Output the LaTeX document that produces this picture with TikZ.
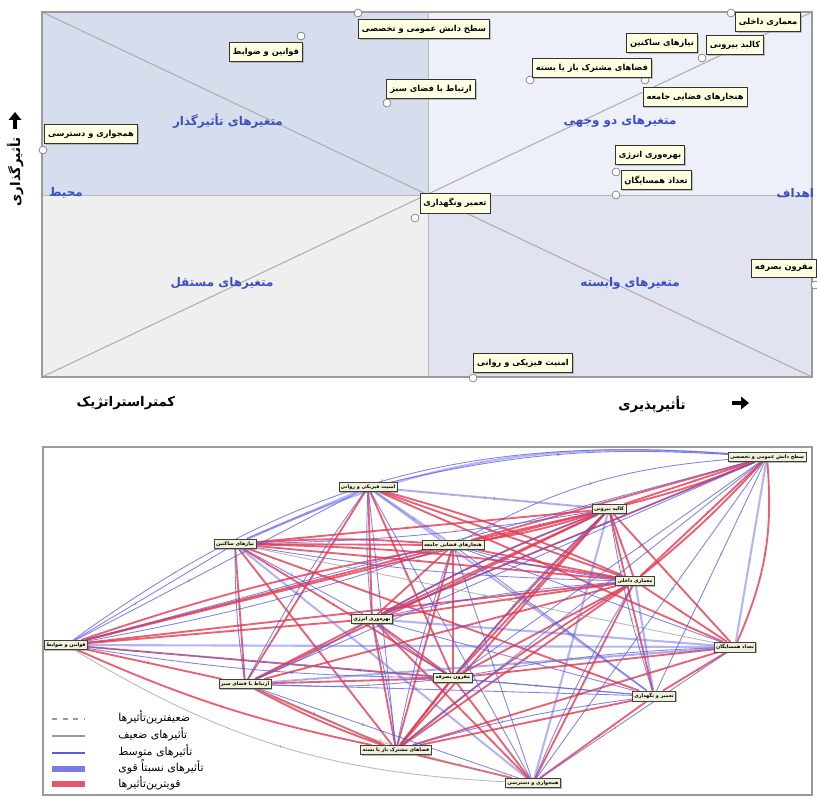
\documentclass[tikz,border=0pt]{standalone}
\usepackage{fontspec}
\usetikzlibrary{arrows.meta,shadows,backgrounds}
\newfontfamily\farsi[Script=Arabic]{DejaVu Sans}
\TeXXeTstate=1
\newcommand{\fatx}[1]{{\farsi\beginR #1\endR}}
\definecolor{qtl}{HTML}{D6DDEC}
\definecolor{qtr}{HTML}{EDF0F8}
\definecolor{qbl}{HTML}{EFEFF0}
\definecolor{qbr}{HTML}{E1E3F0}
\definecolor{ctitle}{HTML}{3B4FC4}
\definecolor{cbox}{HTML}{FFFFE1}
\definecolor{cgbox}{HTML}{F1F0D8}
\definecolor{cred}{HTML}{E2384E}
\definecolor{cblue}{HTML}{5A5AE0}
\definecolor{cline}{HTML}{9A9A9A}
\tikzset{
  frame/.style ={draw=cline,line width=0.8pt},
  grid/.style  ={draw=cline!70,line width=0.5pt},
  diag/.style  ={draw=cline!80,line width=0.6pt},
  qtitle/.style={text=ctitle,font=\bfseries\fontsize{6.8}{7}\selectfont,inner sep=1pt},
  axis/.style  ={font=\bfseries\fontsize{7.6}{8}\selectfont,inner sep=1pt},
  lbl/.style   ={draw=black!80,fill=cbox,line width=0.4pt,inner xsep=2pt,inner ysep=3pt,
                 font=\bfseries\fontsize{4.7}{5}\selectfont,
                 drop shadow={shadow xshift=0.8pt,shadow yshift=-0.8pt,fill=black!45}},
  pt/.style    ={circle,draw=black!55,fill=white,line width=0.35pt,inner sep=0pt,minimum size=4.5pt},
  gnode/.style ={draw=black!75,fill=cgbox,line width=0.35pt,inner xsep=1.1pt,inner ysep=1.3pt,
                 font=\bfseries\fontsize{2.8}{3}\selectfont,
                 drop shadow={shadow xshift=0.6pt,shadow yshift=-0.6pt,fill=black!55}},
  strong/.style={draw=cred,line width=1.05pt,opacity=0.8},
  semi/.style  ={draw=cblue,line width=1.2pt,opacity=0.45},
  mid/.style   ={draw=cblue,line width=0.5pt,opacity=0.75},
  weak/.style  ={draw=cline,line width=0.5pt,opacity=0.7},
  faint/.style ={draw=cline,line width=0.4pt,dashed,opacity=0.7},
  num/.style   ={font=\fontsize{2.8}{3}\selectfont,text=black!60,inner sep=0.3pt},
  leg/.style   ={font=\fontsize{6.2}{7}\selectfont,anchor=west,inner sep=0pt},
}
\begin{document}
\begin{tikzpicture}[x=0.02cm,y=-0.02cm]
\useasboundingbox (0,0) rectangle (817,798);
% upper chart
\fill[qtl] (42,12) rectangle (428,195);
\fill[qtr] (428,12) rectangle (812,195);
\fill[qbl] (42,195) rectangle (428,377);
\fill[qbr] (428,195) rectangle (812,377);
\draw[grid] (42,195) -- (812,195) (428,12) -- (428,377);
\draw[diag] (42,12) -- (812,377) (42,377) -- (812,12);
\draw[frame] (42,12) rectangle (812,377);
\node[qtitle] (q1) at (228,121) {\fatx{متغیرهای تأثیرگذار}};
\node[qtitle] (q2) at (620,121) {\fatx{متغیرهای دو وجهی}};
\node[qtitle] (q3) at (222,283) {\fatx{متغیرهای مستقل}};
\node[qtitle] (q4) at (630,283) {\fatx{متغیرهای وابسته}};
\node[qtitle] (env) at (66,193) {\fatx{محیط}};
\node[qtitle,anchor=east] (goal) at (816,193) {\fatx{اهداف}};
\foreach \n/\x/\y in {sd/358/13,qz/301/36,fs/387/103,hd/43/150,md/731/13,kb/702/58,
                      fm/530/80,hj/645/80,be/616/172,th/616/195,tn/415/218,mb/815/285,am/473/378}
  \node[pt] (p\n) at (\x,\y) {};
\foreach \n/\x/\y/\t in {sd/424/29/{سطح دانش عمومی و تخصصی},qz/266/52/{قوانین و ضوابط},
    fs/431/89/{ارتباط با فضای سبز},hd/91/134/{همجواری و دسترسی},md/768/22/{معماری داخلی},
    kb/735/45/{کالبد بیرونی},ns/662/43/{نیازهای ساکنین},fm/592/68/{فضاهای مشترک باز یا بسته},
    hj/695/97/{هنجارهای فضایی جامعه},be/650/155/{بهره‌وری انرژی},th/656/180/{تعداد همسایگان},
    tn/455/203/{تعمیر ونگهداری},mb/784/268/{مقرون بصرفه},am/523/363/{امنیت فیزیکی و روانی}}
  \node[lbl] (t\n) at (\x,\y) {\fatx{\t}};
\node[axis] (xlo) at (126,403) {\fatx{کمتراستراتژیک}};
\node[axis] (xhi) at (652,404) {\fatx{تأثیرپذیری}};
\node[axis,rotate=90] (yhi) at (15,172) {\fatx{تأثیرگذاری}};
\coordinate (xa) at (732,403); \coordinate (xb) at (749,403);
\coordinate (ya) at (15,129); \coordinate (yb) at (15,112);
\draw[line width=2.6pt,-{Triangle[length=4.5pt,width=7pt]}] (xa) -- (xb);
\draw[line width=2.6pt,-{Triangle[length=4.5pt,width=7pt]}] (ya) -- (yb);
% lower graph
\draw[frame] (43,447) rectangle (812,795);
\foreach \n/\x/\y/\t in {sd/767/457/{سطح دانش عمومی و تخصصی},am/368/487/{امنیت فیزیکی و روانی},
    kb/609/509/{کالبد بیرونی},ns/235/544/{نیازهای ساکنین},hj/453/545/{هنجارهای فضایی جامعه},
    md/635/581/{معماری داخلی},be/372/619/{بهره‌وری انرژی},qz/66/645/{قوانین و ضوابط},
    th/735/647/{تعداد همسایگان},fs/245/684/{ارتباط با فضای سبز},mb/453/678/{مقرون بصرفه},
    tn/654/696/{تعمیر و نگهداری},fm/396/750/{فضاهای مشترک باز یا بسته},hd/533/783/{همجواری و دسترسی}}
  \node[gnode] (\n) at (\x,\y) {\fatx{\t}};
\begin{scope}[on background layer]
 \foreach \a/\b in {ns/hj,ns/md,ns/kb,ns/fs,ns/fm,ns/mb,ns/tn,am/fs,am/md,am/mb,am/th,am/be,
     kb/hj,kb/qz,kb/fs,kb/be,kb/md,kb/th,kb/mb,kb/tn,kb/fm,sd/kb,sd/md,sd/be,sd/hj,
     hj/md,hj/be,hj/fm,hj/mb,hj/qz,md/qz,md/be,md/fs,md/mb,md/fm,md/th,md/hd,
     be/qz,be/fs,be/mb,be/fm,be/hd,qz/fs,qz/mb,th/mb,th/fm,th/tn,fs/fm,fs/mb,
     mb/fm,mb/hd,tn/hd,tn/fm,fm/hd}
   \draw[strong] (\a) -- node[num,pos=0.45]{3} (\b);
 \foreach \a/\b in {ns/hj,ns/md,kb/hj,fm/fs,fm/md,sd/kb,qz/hj,am/md,fm/kb,be/kb,sd/md}
   \draw[strong] (\a) to[bend left=4] (\b);
 \foreach \a/\b in {ns/am,am/hj,qz/th,fs/th,am/tn,hd/ns,hd/kb,be/th,md/tn,kb/am,sd/th}
   \draw[semi] (\a) -- node[num,pos=0.55]{2} (\b);
 \foreach \a/\b in {sd/fs,sd/tn,sd/mb,sd/fm,sd/hd,qz/ns,qz/am,hj/th,hj/tn,hj/hd,be/tn,
     mb/tn,ns/be,fs/hd,fs/tn,am/fm,am/hd,qz/tn,hd/th,sd/qz,sd/be}
   \draw[mid] (\a) -- node[num,pos=0.4]{2} (\b);
 \foreach \a/\b in {ns/kb,ns/md,qz/hj,kb/be,md/be,fm/be,hj/fm,kb/tn,fs/mb,be/mb,
     hj/md,ns/fs,am/fs,kb/mb,md/hd,tn/fm,qz/mb,th/mb,fs/be,am/be}
   \draw[mid] (\a) to[bend right=4] node[num,pos=0.6]{2} (\b);
 \draw[semi] (sd) to[bend right=14] node[num]{2} (ns);
 \draw[mid] (sd) to[bend right=20] node[num]{2} (qz);
 \draw[mid] (sd) to[bend right=8] node[num]{2} (am);
 \draw[mid] (sd) to[bend right=12] node[num]{2} (hj);
 \draw[strong] (sd) to[bend left=14] node[num]{3} (th);
 \draw[strong] (qz) to[bend right=6] node[num]{3} (fm);
 \draw[weak] (qz) to[bend right=14] node[num]{1} (hd);
 \draw[weak] (ns) -- node[num]{1} (th);
 \draw[weak] (fs) to[bend right=6] node[num]{1} (hd);
 \draw[faint] (am) -- node[num]{1} (kb);
 \draw[faint] (fs) -- node[num]{1} (th);
 \draw[faint] (qz) -- node[num]{1} (tn);
\end{scope}
% legend
\draw[faint,opacity=1,line width=0.9pt] (52,719) -- (85,719);
\draw[weak,opacity=1,line width=1.1pt] (52,736) -- (85,736);
\draw[mid,opacity=1,line width=0.9pt] (52,753) -- (85,753);
\draw[draw=cblue!80,line width=3.4pt] (52,769) -- (85,769);
\draw[draw=cred!85,line width=3.4pt] (52,784) -- (85,784);
\node[leg] (l1) at (118,717) {\fatx{ضعیفترین‌تأثیرها}};
\node[leg] (l2) at (118,734) {\fatx{تأثیرهای ضعیف}};
\node[leg] (l3) at (118,751) {\fatx{تأثیرهای متوسط}};
\node[leg] (l4) at (118,767) {\fatx{تأثیرهای نسبتاً قوی}};
\node[leg] (l5) at (118,783) {\fatx{قویترین‌تأثیرها}};
\end{tikzpicture}
\end{document}
